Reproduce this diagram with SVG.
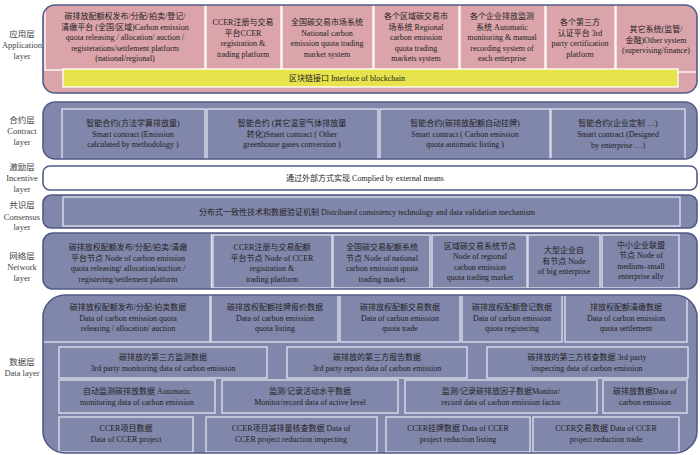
<svg xmlns="http://www.w3.org/2000/svg" width="700" height="455" viewBox="0 0 700 455">
<style>
.lbl{font-family:"Liberation Serif","Noto Sans CJK SC",serif;font-size:8.5px;fill:#444;text-anchor:middle}
.t{font-family:"Liberation Serif","Noto Sans CJK SC",serif;font-size:8px;fill:#222;text-anchor:middle}
.oP{fill:#dba4ab}
.oS{fill:#8186ab}
.oW{fill:#ffffff}
.edge{fill:none;stroke:#525a88;stroke-width:1.6}
.bP{fill:#dba4ab;stroke:#ffffff;stroke-width:1.3}
.bS{fill:#8186ab;stroke:#e2e3ee;stroke-width:1.3}
.bY{fill:#e7e34c;stroke:#ffffff;stroke-width:1.3}
</style>
<defs>
<clipPath id="cApp"><rect x="43" y="5" width="654" height="88" rx="12"/></clipPath>
<clipPath id="cCon"><rect x="43" y="102" width="654" height="57" rx="12"/></clipPath>
<clipPath id="cNet"><rect x="43" y="233" width="654" height="56" rx="10"/></clipPath>
<clipPath id="cDat"><rect x="43" y="295" width="654" height="158" rx="22"/></clipPath>
</defs>

<g id="labels">
<text class="lbl" x="22" y="37">应用层</text>
<text class="lbl" x="22" y="48">Application</text>
<text class="lbl" x="22" y="59">layer</text>
<text class="lbl" x="22" y="123">合约层</text>
<text class="lbl" x="22" y="134">Contract</text>
<text class="lbl" x="22" y="145">layer</text>
<text class="lbl" x="22" y="170">激励层</text>
<text class="lbl" x="22" y="181">Incentive</text>
<text class="lbl" x="22" y="192">layer</text>
<text class="lbl" x="22" y="208">共识层</text>
<text class="lbl" x="22" y="219.5">Consensus</text>
<text class="lbl" x="22" y="230">layer</text>
<text class="lbl" x="22" y="259">网络层</text>
<text class="lbl" x="22" y="270">Network</text>
<text class="lbl" x="22" y="281">layer</text>
<text class="lbl" x="22" y="365">数据层</text>
<text class="lbl" x="22" y="376">Data layer</text>
</g>

<!-- Application layer -->
<g id="application-layer">
<rect class="oP" x="43" y="5" width="654" height="88" rx="12"/>
<g clip-path="url(#cApp)">
<g id="app-quota-platform"><rect class="bP" x="45" y="4" width="160" height="66"/>
<text class="t" x="125" y="19">碳排放配额权发布/分配/拍卖/登记/</text>
<text class="t" x="125" y="29.5">清缴平台 (全国/区域)Carbon emission</text>
<text class="t" x="125" y="40">quota releasing / allocation/ auction /</text>
<text class="t" x="125" y="50.5">registerations/settlement platform</text>
<text class="t" x="125" y="61">(national/regional)</text></g>
<g id="app-ccer-platform"><rect class="bP" x="206" y="4" width="75" height="66"/>
<text class="t" x="243" y="25">CCER注册与交易</text>
<text class="t" x="243" y="35.5">平台CCER</text>
<text class="t" x="243" y="46">registration &amp;</text>
<text class="t" x="243" y="56.5">trading platform</text></g>
<g id="app-national-market"><rect class="bP" x="282" y="4" width="91" height="66"/>
<text class="t" x="327" y="25">全国碳交易市场系统</text>
<text class="t" x="327" y="35.5">National carbon</text>
<text class="t" x="327" y="46">emission quota trading</text>
<text class="t" x="327" y="56.5">market system</text></g>
<g id="app-regional-markets"><rect class="bP" x="374" y="4" width="85" height="66"/>
<text class="t" x="416" y="19">各个区域碳交易市</text>
<text class="t" x="416" y="29.5">场系统 Regional</text>
<text class="t" x="416" y="40">carbon emission</text>
<text class="t" x="416" y="50.5">quota trading</text>
<text class="t" x="416" y="61">markets system</text></g>
<g id="app-enterprise-monitoring"><rect class="bP" x="460" y="4" width="85" height="66"/>
<text class="t" x="502" y="19">各个企业排放监测</text>
<text class="t" x="502" y="29.5">系统 Automatic</text>
<text class="t" x="502" y="40">monitoring &amp; manual</text>
<text class="t" x="502" y="50.5">recording system of</text>
<text class="t" x="502" y="61">each enterprise</text></g>
<g id="app-third-party"><rect class="bP" x="546" y="4" width="69" height="66"/>
<text class="t" x="580" y="25">各个第三方</text>
<text class="t" x="580" y="35.5">认证平台 3rd</text>
<text class="t" x="580" y="46">party certification</text>
<text class="t" x="580" y="56.5">platform</text></g>
<g id="app-other-system"><rect class="bP" x="616" y="4" width="84" height="68"/>
<text class="t" x="656" y="32">其它系统(监管/</text>
<text class="t" x="656" y="42.5">金融)Other system</text>
<text class="t" x="656" y="53">(supervising/finance)</text></g>
<g id="blockchain-interface"><rect class="bY" x="63" y="69" width="615" height="18"/>
<text class="t" x="347" y="81">区块链接口 Interface of blockchain</text></g>
</g>
<rect class="edge" x="43" y="5" width="654" height="88" rx="12"/>
</g>

<!-- Contract layer -->
<g id="contract-layer">
<rect class="oS" x="43" y="102" width="654" height="57" rx="12"/>
<g clip-path="url(#cCon)">
<g id="contract-methodology"><rect class="bS" x="62" y="109" width="143" height="52"/>
<text class="t" x="133" y="126">智能合约(方法学算排放量)</text>
<text class="t" x="133" y="136.5">Smart contract (Emission</text>
<text class="t" x="133" y="147">calculated by methodology )</text></g>
<g id="contract-ghg"><rect class="bS" x="207" y="109" width="171" height="52"/>
<text class="t" x="292" y="126">智能合约 (其它温室气体排放量</text>
<text class="t" x="292" y="136.5">转化)Smart contract ( Other</text>
<text class="t" x="292" y="147">greenhouse gases conversion )</text></g>
<g id="contract-listing"><rect class="bS" x="380" y="109" width="170" height="52"/>
<text class="t" x="465" y="126">智能合约(碳排放配额自动挂牌)</text>
<text class="t" x="465" y="136.5">Smart contract ( Carbon emission</text>
<text class="t" x="465" y="147">quota automatic listing )</text></g>
<g id="contract-enterprise"><rect class="bS" x="551" y="109" width="134" height="52"/>
<text class="t" x="618" y="126">智能合约(企业定制 …)</text>
<text class="t" x="618" y="137">Smart contract (Designed</text>
<text class="t" x="618" y="148">by enterprise …)</text></g>
</g>
<rect class="edge" x="43" y="102" width="654" height="57" rx="12"/>
</g>

<!-- Incentive layer -->
<g id="incentive-layer">
<rect class="oW" x="43" y="166" width="654" height="24" rx="7"/>
<rect class="edge" x="43" y="166" width="654" height="24" rx="7"/>
<text class="t" x="365" y="181">通过外部方式实现 Complied by external means</text>
</g>

<!-- Consensus layer -->
<g id="consensus-layer">
<rect class="oS" x="43" y="195" width="654" height="33" rx="8"/>
<rect class="bS" x="63" y="197" width="617" height="29"/>
<rect class="edge" x="43" y="195" width="654" height="33" rx="8"/>
<text class="t" x="367" y="215">分布式一致性技术和数据验证机制 Distributed consistency technology and data validation mechanism</text>
</g>

<!-- Network layer -->
<g id="network-layer">
<rect class="oS" x="43" y="233" width="654" height="56" rx="10"/>
<g clip-path="url(#cNet)">
<g id="net-quota-platform"><line x1="211.5" y1="233" x2="211.5" y2="289" stroke="#e2e3ee" stroke-width="1.3"/>
<text class="t" x="128" y="250">碳排放权配额发布/分配/拍卖/清缴</text>
<text class="t" x="128" y="260.5">平台节点 Node of carbon emission</text>
<text class="t" x="128" y="271">quota releasing/ allocation/auction /</text>
<text class="t" x="128" y="281.5">registering/settlement platform</text></g>
<g id="net-ccer"><rect class="bS" x="213" y="235" width="119" height="53"/>
<text class="t" x="272" y="250">CCER注册与交易配额</text>
<text class="t" x="272" y="260.5">平台节点 Node of CCER</text>
<text class="t" x="272" y="271">registration &amp;</text>
<text class="t" x="272" y="281.5">trading platform</text></g>
<g id="net-national"><rect class="bS" x="333" y="235" width="97" height="53"/>
<text class="t" x="382" y="250">全国碳交易配额系统</text>
<text class="t" x="382" y="260.5">节点 Node of national</text>
<text class="t" x="382" y="271">carbon emission quota</text>
<text class="t" x="382" y="281.5">trading market</text></g>
<g id="net-regional"><rect class="bS" x="432" y="235" width="95" height="53"/>
<text class="t" x="480" y="248.5">区域碳交易系统节点</text>
<text class="t" x="480" y="259">Node of regional</text>
<text class="t" x="480" y="269.5">carbon emission</text>
<text class="t" x="480" y="280">quota trading market</text></g>
<g id="net-big-enterprise"><rect class="bS" x="528" y="235" width="72" height="53"/>
<text class="t" x="564" y="253">大型企业自</text>
<text class="t" x="564" y="263.5">有节点 Node</text>
<text class="t" x="564" y="274">of big enterprise</text></g>
<g id="net-sme-ally"><rect class="bS" x="602" y="235" width="77" height="53"/>
<text class="t" x="641" y="247.5">中小企业联盟</text>
<text class="t" x="641" y="258">节点 Node of</text>
<text class="t" x="641" y="268.5">medium–small</text>
<text class="t" x="641" y="279">enterprise ally</text></g>
</g>
<rect class="edge" x="43" y="233" width="654" height="56" rx="10"/>
</g>

<!-- Data layer -->
<g id="data-layer">
<rect class="oS" x="43" y="295" width="654" height="158" rx="22"/>
<g clip-path="url(#cDat)">
<g id="data-release"><rect class="bS" x="40" y="293" width="170" height="49"/>
<text class="t" x="128" y="310">碳排放权配额发布/分配/拍卖数据</text>
<text class="t" x="128" y="320.5">Data of carbon emission quota</text>
<text class="t" x="128" y="331">releasing / allocation/ auction</text></g>
<g id="data-listing-quote"><rect class="bS" x="211" y="293" width="127" height="49"/>
<text class="t" x="275" y="310">碳排放权配额挂牌报价数据</text>
<text class="t" x="275" y="320.5">Data of carbon emission</text>
<text class="t" x="275" y="331">quota listing</text></g>
<g id="data-trade"><rect class="bS" x="340" y="293" width="120" height="49"/>
<text class="t" x="400" y="310">碳排放权配额交易数据</text>
<text class="t" x="400" y="320.5">Data of carbon emission</text>
<text class="t" x="400" y="331">quota trade</text></g>
<g id="data-registering"><rect class="bS" x="462" y="293" width="100" height="49"/>
<text class="t" x="512" y="310">碳排放权配额登记数据</text>
<text class="t" x="512" y="320.5">Data of carbon emission</text>
<text class="t" x="512" y="331">quota registering</text></g>
<g id="data-settlement"><rect class="bS" x="565" y="293" width="122" height="49"/>
<text class="t" x="626" y="310">排放权配额清缴数据</text>
<text class="t" x="626" y="320.5">Data of carbon emission</text>
<text class="t" x="626" y="331">quota settlement</text></g>

<g id="data-3rd-monitoring"><rect class="bS" x="59" y="347" width="208" height="31"/>
<text class="t" x="163" y="360">碳排放的第三方监测数据</text>
<text class="t" x="163" y="370.5">3rd party monitoring data of carbon emission</text></g>
<g id="data-3rd-report"><rect class="bS" x="287" y="347" width="180" height="31"/>
<text class="t" x="377" y="360">碳排放的第三方报告数据</text>
<text class="t" x="377" y="370.5">3rd party report data of carbon emission</text></g>
<g id="data-3rd-inspecting"><rect class="bS" x="487" y="347" width="201" height="31"/>
<text class="t" x="587" y="360">碳排放的第三方核查数据 3rd party</text>
<text class="t" x="587" y="370.5">inspecting data of carbon emission</text></g>

<g id="data-auto-monitoring"><rect class="bS" x="59" y="380" width="156" height="33"/>
<text class="t" x="137" y="394">自动监测碳排放数据 Automatic</text>
<text class="t" x="137" y="404.5">monitoring data of carbon emission</text></g>
<g id="data-active-level"><rect class="bS" x="222" y="380" width="176" height="33"/>
<text class="t" x="310" y="394">监测/记录活动水平数据</text>
<text class="t" x="310" y="404.5">Monitor/record data of active level</text></g>
<g id="data-emission-factor"><rect class="bS" x="405" y="380" width="192" height="33"/>
<text class="t" x="501" y="394">监测/记录碳排放因子数据Monitor/</text>
<text class="t" x="501" y="404.5">record data of carbon emission factor</text></g>
<g id="data-carbon-emission"><rect class="bS" x="603" y="380" width="84" height="33"/>
<text class="t" x="645" y="394">碳排放数据Data of</text>
<text class="t" x="645" y="404.5">carbon emission</text></g>

<g id="data-ccer-project"><rect class="bS" x="59" y="417" width="134" height="35"/>
<text class="t" x="126" y="431">CCER项目数据</text>
<text class="t" x="126" y="441.5">Data of CCER project</text></g>
<g id="data-ccer-inspecting"><rect class="bS" x="206" y="417" width="171" height="35"/>
<text class="t" x="291" y="431">CCER项目减排量核查数据 Data of</text>
<text class="t" x="291" y="441.5">CCER project reduction inspecting</text></g>
<g id="data-ccer-listing"><rect class="bS" x="386" y="417" width="144" height="35"/>
<text class="t" x="458" y="431">CCER挂牌数据 Data of CCER</text>
<text class="t" x="458" y="441.5">project reduction listing</text></g>
<g id="data-ccer-trade"><rect class="bS" x="533" y="417" width="146" height="35"/>
<text class="t" x="606" y="431">CCER交易数据 Data of CCER</text>
<text class="t" x="606" y="441.5">project reduction trade</text></g>
</g>
<rect class="edge" x="43" y="295" width="654" height="158" rx="22"/>
</g>
</svg>
